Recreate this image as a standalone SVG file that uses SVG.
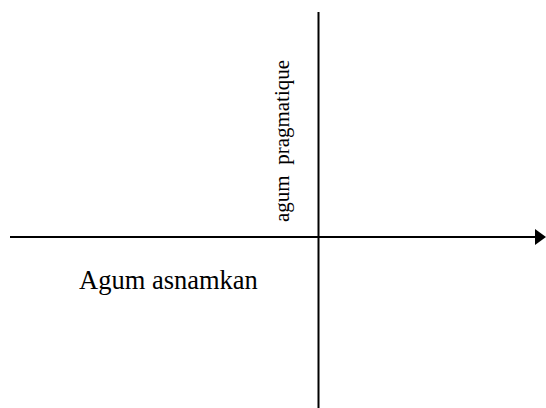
<svg xmlns="http://www.w3.org/2000/svg" width="546" height="408" viewBox="0 0 546 408">
<style>
.ax{stroke:#000;stroke-width:2;fill:none}
.t{font-family:"Liberation Serif","Times New Roman",serif;fill:#000}
</style>
<rect width="546" height="408" fill="#fff"/>
<g id="connectors">
<line class="ax" x1="318.5" y1="12" x2="318.5" y2="408"/>
<line class="ax" x1="10" y1="237" x2="536" y2="237"/>
<polygon points="535,229 546,237 535,245" fill="#000"/>
</g>
<g id="label-pragmatique">
<text class="t" font-size="21" transform="translate(289,222) rotate(-90)" xml:space="preserve">agum  pragmatique</text>
</g>
<g id="label-asnamkan">
<text class="t" font-size="26.5" x="79" y="289">Agum asnamkan</text>
</g>
</svg>
